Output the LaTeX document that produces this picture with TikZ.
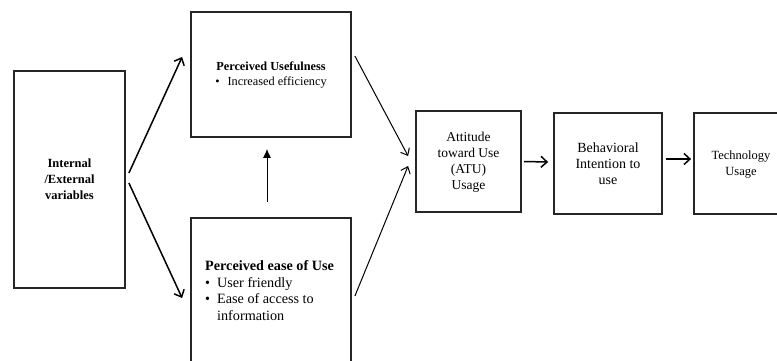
\documentclass[tikz,border=0pt]{standalone}
\usepackage{fontspec}
\setmainfont{Liberation Serif}
\usetikzlibrary{arrows.meta}
\begin{document}
\begin{tikzpicture}[x=1pt,y=-1pt,
  box/.style={draw=black!85, line width=1.8pt, inner sep=0pt},
  lbl/.style={align=center, inner sep=0pt},
  barb/.style={-{Straight Barb[length=6pt,width=11pt]}, line width=1.5pt},
  thinbarb/.style={-{Straight Barb[length=6pt,width=10pt]}, line width=1pt},
  filled/.style={-{Latex[length=9pt,width=8pt]}, line width=1pt}]
\useasboundingbox (0,0) rectangle (777,360);
\clip (0,0) rectangle (777,360);
\node[box, minimum width=111pt, minimum height=217pt] (ext) at (69.5,179.5) {};
\node[box, minimum width=160pt, minimum height=125pt] (pu) at (271,74.5) {};
\node[box, minimum width=160pt, minimum height=152pt] (peou) at (271,294) {};
\node[box, minimum width=105pt, minimum height=101pt] (atu) at (468.5,161.5) {};
\node[box, minimum width=108pt, minimum height=101pt] (bi) at (608,163.5) {};
\node[box, minimum width=96pt, minimum height=101pt] (tu) at (742,163.5) {};

\node[lbl, font=\fontsize{12.5}{16}\selectfont\bfseries] (exttext) at (69.5,179) {Internal\\/External\\variables};
\node[lbl, anchor=north] (putext) at (271,60) {\fontsize{12.3}{15}\selectfont
  \begin{tabular}{@{}c@{\hspace{8pt}}l@{}}
  \multicolumn{2}{@{}c@{}}{\bfseries Perceived Usefulness}\\
  \textbullet & Increased efficiency
  \end{tabular}};
\node[lbl, anchor=north west] (peoutext) at (205,259) {\fontsize{14.2}{16.5}\selectfont
  \begin{tabular}{@{}c@{\hspace{7pt}}l@{}}
  \multicolumn{2}{@{}l@{}}{\bfseries Perceived ease of Use}\\
  \textbullet & User friendly\\
  \textbullet & Ease of access to\\
   & information
  \end{tabular}};
\node[lbl, font=\fontsize{13.5}{16}\selectfont] (atutext) at (468.5,162) {Attitude\\toward Use\\(ATU)\\Usage};
\node[lbl, font=\fontsize{14}{16}\selectfont] (bitext) at (608,164) {Behavioral\\Intention to\\use};
\node[lbl, font=\fontsize{12.5}{15.5}\selectfont] (tutext) at (741,164.5) {Technology\\Usage};

\draw[barb] ([xshift=3pt,yshift=6.5pt]ext.east) -- ([xshift=-8pt,yshift=17.5pt]pu.west);
\draw[barb] ([xshift=3pt,yshift=-3.5pt]ext.east) -- ([xshift=-8pt,yshift=-4pt]peou.west);
\draw[filled] ([xshift=-4pt,yshift=15pt]peou.north) -- ([xshift=-4pt,yshift=-11pt]pu.south);
\draw[thinbarb] ([xshift=3pt,yshift=18.5pt]pu.east) -- ([xshift=-7pt,yshift=5.5pt]atu.west);
\draw[thinbarb] ([xshift=3pt,yshift=-2pt]peou.east) -- ([xshift=-7pt,yshift=-4.5pt]atu.west);
\draw[barb] ([xshift=2pt]atu.east) -- ([xshift=-5pt,yshift=1.5pt]bi.west);
\draw[barb] ([xshift=3pt,yshift=4.5pt]bi.east) -- ([xshift=-2pt,yshift=4.5pt]tu.west);
\end{tikzpicture}
\end{document}
